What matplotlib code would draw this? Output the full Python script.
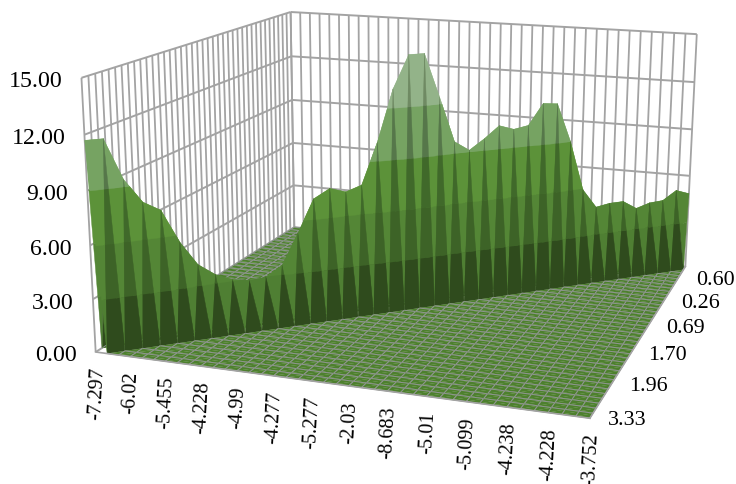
import numpy as np
import matplotlib
matplotlib.use('Agg')
import matplotlib.pyplot as plt
from matplotlib.collections import PolyCollection

# height along the ridge, one value per x category (x index == depth index)
ridge = [11.7, 11.7, 9.4, 8.06, 7.5, 5.6, 4.2, 3.5, 3.08, 2.9,
         2.97, 3.54, 5.3, 7.2, 7.7, 7.4, 7.7, 10.1, 13.1, 15.0,
         15.0, 12.4, 9.7, 9.1, 9.7, 10.4, 10.1, 10.25, 11.5, 11.4,
         9.0, 5.9, 4.7, 4.84, 4.85, 4.3, 4.55, 4.6, 5.15, 4.84]
x_labels = ['-7.297', '-6.02', '-5.455', '-4.228', '-4.99', '-4.277', '-5.277',
            '-2.03', '-8.683', '-5.01', '-5.099', '-4.238', '-4.228', '-3.752']
y_labels = ['3.33', '1.96', '1.70', '0.69', '0.26', '0.60']
z_ticks = [0, 3, 6, 9, 12, 15]
z_labels = ['0.00', '3.00', '6.00', '9.00', '12.00', '15.00']

n = len(ridge)
Z = np.zeros((n, n))  # Z[c, s], s=0 is the front row
for i in range(n):
    Z[i, i] = ridge[i]

# band colours, low to high
wedge_cols = ['#4f7f33', '#548636', '#5c9239', '#76a362', '#93b389']
tooth_cols = ['#2f4b1d', '#3d6327', '#40692a', '#56774a', '#6f8a63']
floor_col = '#4d802d'
line_col = '#a3a3a3'
floor_line = '#8f9690'

# camera fitted to the chart box corners: (c, s, z) -> pixel
anchors = [((0, 0, 0), (95, 353)), ((0, 0, 15), (82, 79)),
           ((0, 39, 0), (295, 228)), ((0, 39, 15), (290, 13)),
           ((39, 39, 0), (685, 268)), ((39, 39, 15), (697, 35)),
           ((39, 0, 0), (590, 419))]
rows = []
for (a, b, c), (u, v) in anchors:
    rows.append([a, b, c, 1, 0, 0, 0, 0, -u*a, -u*b, -u*c, -u])
    rows.append([0, 0, 0, 0, a, b, c, 1, -v*a, -v*b, -v*c, -v])
P = np.linalg.svd(np.array(rows, float))[2][-1].reshape(3, 4)


def proj(pts):
    pts = np.asarray(pts, float)
    h = P @ np.c_[pts, np.ones(len(pts))].T
    return (h[:2] / h[2]).T


def clip(tri, lo, hi):
    # keep the part of a polygon between two heights
    out = list(tri)
    for lim, sign in ((lo, 1), (hi, -1)):
        res = []
        for i in range(len(out)):
            p, q = np.array(out[i], float), np.array(out[(i + 1) % len(out)], float)
            dp, dq = sign * (p[2] - lim), sign * (q[2] - lim)
            if dp >= 0:
                res.append(p)
            if dp * dq < 0:
                res.append(p + (q - p) * dp / (dp - dq))
        out = res
        if not out:
            break
    return out


polys, faces, edges, widths = [], [], [], []


def add_fill(pts, col):
    polys.append(proj(pts))
    faces.append(col)
    edges.append(col)
    widths.append(0.3)


def add_line(a, b, col=floor_line, lw=0.7):
    polys.append(proj([a, b]))
    faces.append('none')
    edges.append(col)
    widths.append(lw)


def add_tri(tri):
    zs = [p[2] for p in tri]
    high = sum(z > 0 for z in zs)
    if high == 0:
        add_fill(tri, floor_col)
        return
    cols = wedge_cols if high == 2 else tooth_cols
    for b in range(5):
        part = clip(tri, z_ticks[b], z_ticks[b + 1] + (50 if b == 4 else 0))
        if len(part) >= 3:
            add_fill(part, cols[b])


# walls
for z in z_ticks:
    add_line((0, 0, z), (0, n - 1, z), line_col, 1.4)
    add_line((0, n - 1, z), (n - 1, n - 1, z), line_col, 1.4)
for i in range(n):
    add_line((0, i, 0), (0, i, 15), line_col, 1.3)
    add_line((i, n - 1, 0), (i, n - 1, 15), line_col, 1.3)

# surface, painted back row first
for s in range(n - 2, -1, -1):
    for c in range(n - 1):
        p00 = (c, s, Z[c, s])
        p10 = (c + 1, s, Z[c + 1, s])
        p01 = (c, s + 1, Z[c, s + 1])
        p11 = (c + 1, s + 1, Z[c + 1, s + 1])
        add_tri([p00, p11, p01])
        add_tri([p00, p10, p11])
        for a, b in ((p01, p11), (p00, p01), (p10, p11), (p00, p10)):
            if a[2] == 0 and b[2] == 0:
                add_line(a, b)

fig = plt.figure(figsize=(7.36, 4.85), dpi=100)
ax = fig.add_axes([0, 0, 1, 1])
ax.set_xlim(0, 736)
ax.set_ylim(485, 0)
ax.axis('off')
ax.add_collection(PolyCollection(polys, facecolors=faces, edgecolors=edges,
                                 linewidths=widths, closed=False))

# box edges on the open side
for a, b in (((0, 0, 0), (n - 1, 0, 0)), ((n - 1, 0, 0), (n - 1, n - 1, 0))):
    u = proj([a, b])
    ax.plot(u[:, 0], u[:, 1], color=line_col, lw=1.2)

font = dict(family='Liberation Serif', color='black')
for z, lab in zip(z_ticks, z_labels):
    u = proj([(0, 0, z)])[0]
    ax.text(u[0] - 19, u[1] + 3, lab, ha='right', va='center', fontsize=17.2, **font)
for i, lab in enumerate(x_labels):
    u = proj([(i * 3, 0, 0)])[0]
    ax.text(u[0] + 1, u[1] + 14, lab, ha='center', va='top', rotation=87,
            fontsize=14.6, **font)
for i, lab in enumerate(y_labels):
    u = proj([(n - 1, i * 7, 0)])[0]
    ax.text(u[0] + 18, u[1] + 1, lab, ha='left', va='center', fontsize=15.8, **font)

fig.savefig('out.png', dpi=100)
